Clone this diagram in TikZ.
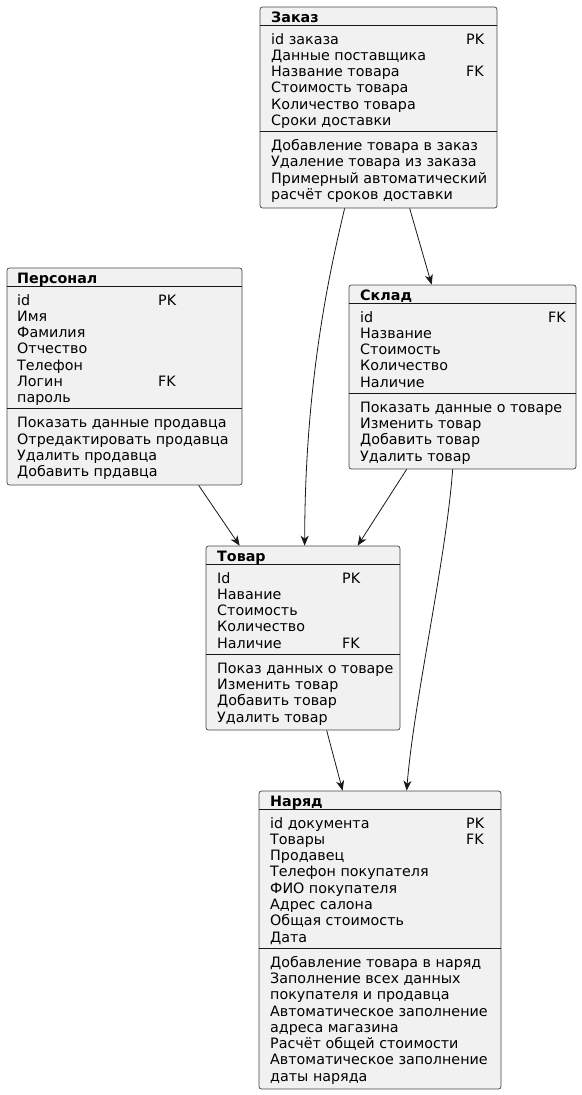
\documentclass[tikz,border=0pt]{standalone}
\usepackage{fontspec}
\setmainfont{DejaVu Sans}
\usetikzlibrary{arrows.meta}
\definecolor{umlfill}{HTML}{F1F1F1}
\definecolor{umlline}{HTML}{181818}

\begin{document}
\begin{tikzpicture}[x=1pt,y=-1pt,
  entity/.style={draw=umlline!80, fill=umlfill, rounded corners=2.5pt, line width=0.7pt, inner sep=0pt},
  sep/.style={draw=umlline, line width=1pt},
  title/.style={font=\bfseries\fontsize{14.3}{16}\selectfont, anchor=base west, inner sep=0pt},
  field/.style={font=\fontsize{14.3}{16}\selectfont, anchor=base west, inner sep=0pt},
  link/.style={draw=umlline, line width=0.8pt, -{Stealth[length=10pt,width=8pt,inset=3pt]}}]
\useasboundingbox (0,0) rectangle (581,1095);

% Заказ
\begin{scope}[shift={(260,7)}]
\node[entity, minimum width=237pt, minimum height=201pt] (zakaz) at (118.5,100.5) {};
\node[title] (zakaz-t) at (11,15.5) {Заказ};
\draw[sep] (0,18) -- (237,18);
\foreach \f/\k [count=\i] in {id заказа/PK, Данные поставщика/, Название товара/FK,
    Стоимость товара/, Количество товара/, Сроки доставки/} {
  \node[field] (zakaz-f\i) at (11,37+16.3*\i-16.3) {\f};
  \node[field] (zakaz-k\i) at (206,37+16.3*\i-16.3) {\k};
}
\draw[sep] (0,124.5) -- (237,124.5);
\foreach \m [count=\i] in {Добавление товара в заказ, Удаление товара из заказа,
    Примерный автоматический, расчёт сроков доставки} {
  \node[field] (zakaz-m\i) at (11,143.5+16.3*\i-16.3) {\m};
}
\end{scope}

% Персонал
\begin{scope}[shift={(7,268)}]
\node[entity, minimum width=235pt, minimum height=217pt] (personal) at (117.5,108.5) {};
\node[title] (personal-t) at (10,15.5) {Персонал};
\draw[sep] (0,18) -- (235,18);
\foreach \f/\k [count=\i] in {id/PK, Имя/, Фамилия/, Отчество/, Телефон/, Логин/FK, пароль/} {
  \node[field] (personal-f\i) at (10,37+16.3*\i-16.3) {\f};
  \node[field] (personal-k\i) at (151,37+16.3*\i-16.3) {\k};
}
\draw[sep] (0,140.8) -- (235,140.8);
\foreach \m [count=\i] in {Показать данные продавца, Отредактировать продавца,
    Удалить продавца, Добавить прдавца} {
  \node[field] (personal-m\i) at (10,159.8+16.3*\i-16.3) {\m};
}
\end{scope}

% Склад
\begin{scope}[shift={(349,285)}]
\node[entity, minimum width=227pt, minimum height=184pt] (sklad) at (113.5,92) {};
\node[title] (sklad-t) at (11,15.5) {Склад};
\draw[sep] (0,18) -- (227,18);
\foreach \f/\k [count=\i] in {id/FK, Название/, Стоимость/, Количество/, Наличие/} {
  \node[field] (sklad-f\i) at (11,37+16.3*\i-16.3) {\f};
  \node[field] (sklad-k\i) at (199,37+16.3*\i-16.3) {\k};
}
\draw[sep] (0,108.2) -- (227,108.2);
\foreach \m [count=\i] in {Показать данные о товаре, Изменить товар,
    Добавить товар, Удалить товар} {
  \node[field] (sklad-m\i) at (11,127.2+16.3*\i-16.3) {\m};
}
\end{scope}

% Товар
\begin{scope}[shift={(206,546)}]
\node[entity, minimum width=194pt, minimum height=184pt] (tovar) at (97,92) {};
\node[title] (tovar-t) at (11,15.5) {Товар};
\draw[sep] (0,18) -- (194,18);
\foreach \f/\k [count=\i] in {Id/PK, Навание/, Стоимость/, Количество/, Наличие/FK} {
  \node[field] (tovar-f\i) at (11,37+16.3*\i-16.3) {\f};
  \node[field] (tovar-k\i) at (136,37+16.3*\i-16.3) {\k};
}
\draw[sep] (0,108.2) -- (194,108.2);
\foreach \m [count=\i] in {Показ данных о товаре, Изменить товар,
    Добавить товар, Удалить товар} {
  \node[field] (tovar-m\i) at (11,127.2+16.3*\i-16.3) {\m};
}
\end{scope}

% Наряд
\begin{scope}[shift={(259,791)}]
\node[entity, minimum width=242pt, minimum height=298pt] (naryad) at (121,149) {};
\node[title] (naryad-t) at (11,15.5) {Наряд};
\draw[sep] (0,18) -- (242,18);
\foreach \f/\k [count=\i] in {id документа/PK, Товары/FK, Продавец/, Телефон покупателя/,
    ФИО покупателя/, Адрес салона/, Общая стоимость/, Дата/} {
  \node[field] (naryad-f\i) at (11,37+16.3*\i-16.3) {\f};
  \node[field] (naryad-k\i) at (207,37+16.3*\i-16.3) {\k};
}
\draw[sep] (0,157.1) -- (242,157.1);
\foreach \m [count=\i] in {Добавление товара в наряд, Заполнение всех данных,
    покупателя и продавца, Автоматическое заполнение, адреса магазина,
    Расчёт общей стоимости, Автоматическое заполнение, даты наряда} {
  \node[field] (naryad-m\i) at (11,176.1+16.3*\i-16.3) {\m};
}
\end{scope}

% связи
\draw[link] ([xshift=85pt]zakaz.south west) .. controls (330,270) and (305,380) .. ([xshift=99pt]tovar.north west);
\draw[link] ([xshift=150pt]zakaz.south west) -- ([xshift=83pt]sklad.north west);
\draw[link] ([xshift=192pt]personal.south west) -- ([xshift=34pt]tovar.north west);
\draw[link] ([xshift=58pt]sklad.south west) -- ([xshift=152pt]tovar.north west);
\draw[link] ([xshift=104pt]sklad.south west) .. controls (446,560) and (414,700) .. ([xshift=148pt]naryad.north west);
\draw[link] ([xshift=121pt]tovar.south west) -- ([xshift=84pt]naryad.north west);
\end{tikzpicture}
\end{document}
